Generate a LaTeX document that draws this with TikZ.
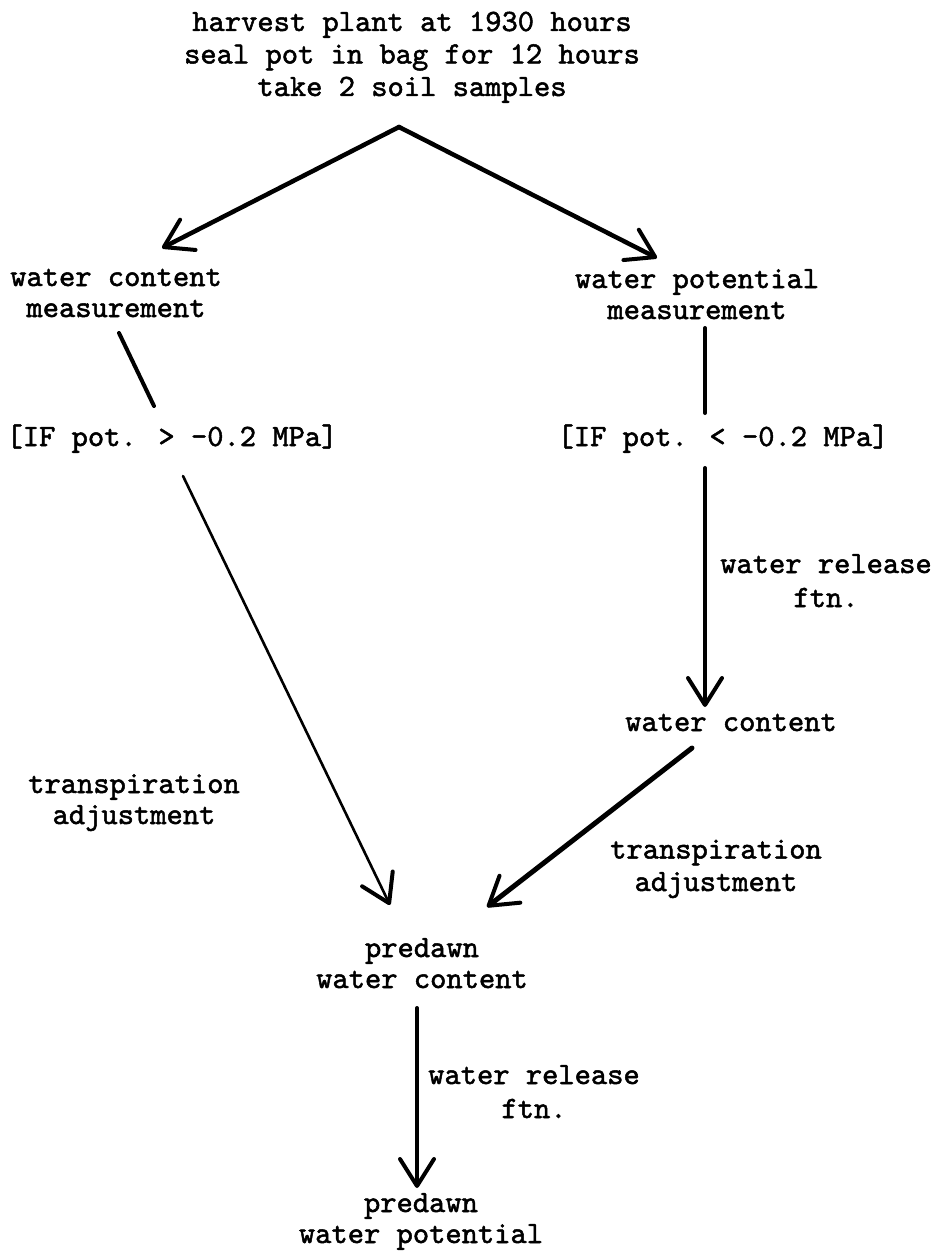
\documentclass[tikz,border=0pt]{standalone}
\usepackage{fontspec}
\newfontfamily\typew{lmmono10-regular.otf}[FakeBold=1.6]
\usetikzlibrary{arrows.meta}
\tikzset{
  lbl/.style={anchor=base, align=center, inner sep=0pt, font=\typew\fontsize{31}{31}\selectfont},
  lblw/.style={lbl, font=\typew\fontsize{31}{34}\selectfont},
  lblt/.style={lbl, font=\typew\fontsize{31}{32.5}\selectfont},
  conn/.style={line width=4pt, line cap=round, line join=round},
  arr/.style={conn, -{Straight Barb[length=27pt,width=34pt,line width=4pt,line cap=round,line join=round]}},
}
\begin{document}
\begin{tikzpicture}[x=1pt,y=-1pt]
\useasboundingbox (0,0) rectangle (936,1252);
\fill[white] (0,0) rectangle (936,1252);
% texts (y = baseline of the last line)
\node[lblt] (top) at (412,96) {harvest plant at 1930 hours\\seal pot in bag for 12 hours\\take 2 soil samples};
\node[lbl] (wcm) at (116,317) {water content\\measurement};
\node[lbl] (wpm) at (697,319) {water potential\\measurement};
\node[lbl] (ifl) at (172,446) {[IF pot. > -0.2 MPa]};
\node[lbl] (ifr) at (723,446) {[IF pot. < -0.2 MPa]};
\node[lblw] (wrf1) at (826,607) {water release\\ftn.};
\node[lbl] (wc) at (731,731) {water content};
\node[lbl] (tal) at (134,824) {transpiration\\adjustment};
\node[lblt] (tar) at (716,891) {transpiration\\adjustment};
\node[lbl] (pwc) at (422,988) {predawn\\water content};
\node[lblw] (wrf2) at (534,1118) {water release\\ftn.};
\node[lbl] (pwp) at (421,1243) {predawn\\water potential};
% connector end points
\coordinate (apex) at (399,127);
\coordinate (wcmtip) at (162,248);
\coordinate (wpmtip) at (657,258);
\coordinate (wcmbot) at (119,333);
\coordinate (ifltop) at (154,406);
\coordinate (wpmbot) at (705,328);
\coordinate (ifrtop) at (705,413);
\coordinate (iflbot) at (183,476);
\coordinate (pwcl) at (390,905);
\coordinate (ifrbot) at (705,468);
\coordinate (wctop) at (705,707);
\coordinate (wcbot) at (692,748);
\coordinate (pwcr) at (487,907);
\coordinate (pwcbot) at (417,1008);
\coordinate (pwptop) at (417,1188);
% connectors
\draw[arr, line width=4.5pt] (apex) -- (wcmtip);
\draw[arr, line width=4.5pt] (apex) -- (wpmtip);
\draw[conn] (wcmbot) -- (ifltop);
\draw[conn] (wpmbot) -- (ifrtop);
\draw[arr, line width=2.6pt] (iflbot) -- (pwcl);
\draw[arr] (ifrbot) -- (wctop);
\draw[arr, line width=5pt] (wcbot) -- (pwcr);
\draw[arr] (pwcbot) -- (pwptop);
\end{tikzpicture}
\end{document}
